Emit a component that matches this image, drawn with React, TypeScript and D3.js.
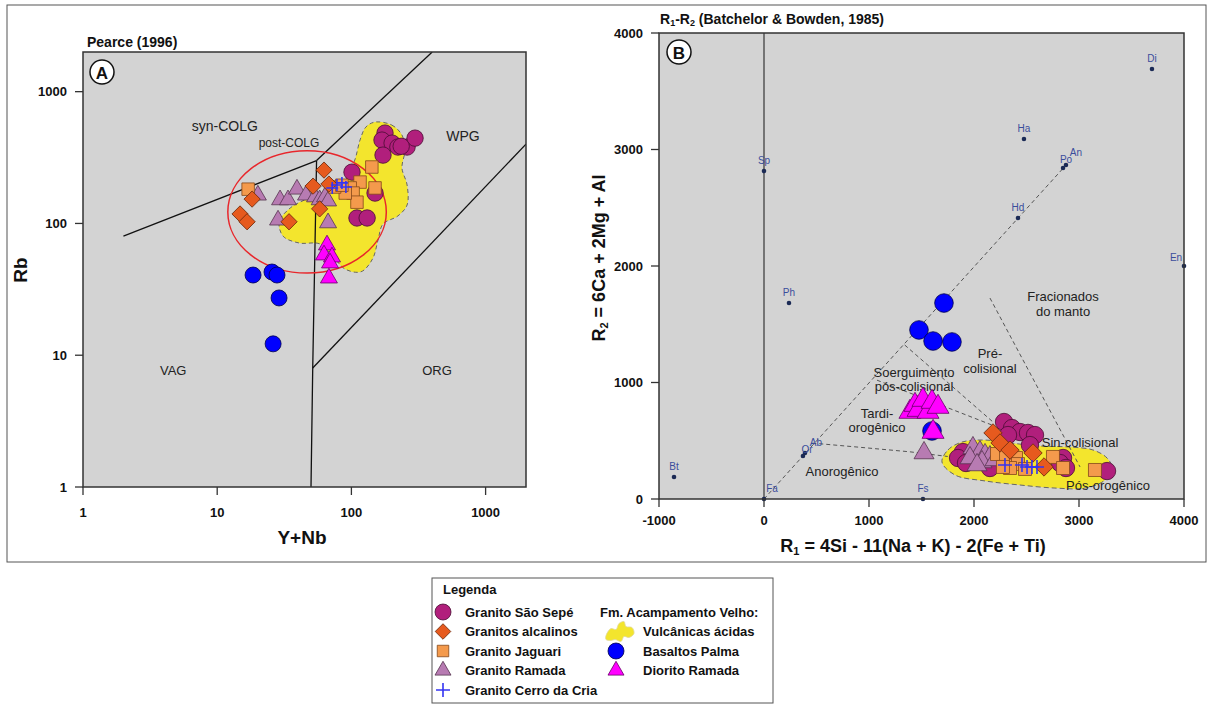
import React from 'react';
import * as d3 from 'd3';

type Pt = [number, number];

const FONT = '"Liberation Sans", Arial, Helvetica, sans-serif';

// ---------- Panel A: Pearce (1996)  Y+Nb (x) vs Rb (y) ----------
const saoSepeA: Pt[] = [[178, 485], [169, 429], [201, 407], [222, 380], [260, 380], [298, 444], [235, 385], [172, 330], [101, 245], [150, 170], [110, 110], [131, 110]];
const ramadaA: Pt[] = [[20.1, 164], [29.4, 151], [33.7, 151], [39.3, 182], [45.9, 164], [53.6, 159], [58, 151], [63.6, 159], [67, 148], [28.4, 106], [67, 101]];
const jaguariA: Pt[] = [[17, 182], [142, 268], [116, 206], [150, 186], [98, 186], [103, 170], [110, 145], [90, 170], [75, 189], [85, 195]];
const alcalinosA: Pt[] = [[18.2, 153], [14.8, 118], [16.7, 103], [62.5, 254], [51.8, 192], [68, 199], [58, 129], [34.3, 103]];
const cerroA: Pt[] = [[72, 186], [78, 196], [85, 203], [91, 189]];
const basaltosA: Pt[] = [[18.5, 40.6], [25.6, 42.8], [27.9, 40.6], [28.9, 27.2], [26.1, 12.2]];
const dioritoA: Pt[] = [[65.8, 68.6], [62.5, 57.6], [71.7, 55.6], [69.3, 50.1], [68, 38.5]];

// field of the Acampamento Velho acid volcanics (outline)
const vulcanicasA: Pt[] = [[150, 588], [200, 558], [238, 469], [251, 361], [238, 264], [260, 196], [260, 138], [222, 114], [172, 99], [158, 75], [144, 54], [118, 43], [90, 45], [73, 56], [58, 70], [41, 71], [31, 80], [29, 103], [35, 131], [45, 151], [64, 173], [90, 213], [106, 303], [116, 430], [128, 538]];

// discrimination boundaries
const pearceLines: Pt[][] = [
  [[2, 80], [55, 300]],
  [[55, 300], [51.5, 8], [50, 1]],
  [[51.5, 8], [2000, 400]],
  [[55, 300], [400, 2000]],
];
const pearceFields = [
  { label: 'syn-COLG', x: 11.4, y: 548, size: 14 },
  { label: 'post-COLG', x: 34.3, y: 407, size: 12 },
  { label: 'WPG', x: 679, y: 460, size: 14 },
  { label: 'VAG', x: 4.7, y: 7.7, size: 13 },
  { label: 'ORG', x: 434, y: 7.7, size: 13 },
];
// red ellipse, extents in data units
const ellipseX: Pt = [12, 182];
const ellipseY: Pt = [42, 356];
const logTicks = [1, 10, 100, 1000];

// ---------- Panel B: R1-R2 (Batchelor & Bowden, 1985) ----------
const saoSepeB: Pt[] = [[2286, 661], [2362, 609], [2438, 575], [2514, 567], [2581, 549], [2324, 549], [2533, 463], [1895, 403], [1848, 352], [1924, 309], [2152, 266], [2848, 352], [2819, 309], [2876, 266], [3267, 240]];
const ramadaB: Pt[] = [[1524, 395], [1990, 438], [2057, 403], [2105, 378], [2152, 360], [1962, 352], [2076, 318], [2029, 292], [2200, 335]];
const jaguariB: Pt[] = [[2219, 386], [2305, 361], [2400, 352], [2419, 300], [2343, 266], [2486, 258], [2276, 275], [2752, 361], [2848, 266], [3152, 249]];
const alcalinosB: Pt[] = [[2181, 567], [2248, 481], [2343, 420], [2562, 395], [2667, 275]];
const cerroB: Pt[] = [[2295, 292], [2457, 292], [2505, 275], [2552, 275], [2600, 275]];
const basaltosB: Pt[] = [[1714, 1682], [1476, 1451], [1610, 1356], [1790, 1348], [1600, 584]];
const dioritoB: Pt[] = [[1390, 747], [1438, 807], [1467, 764], [1514, 850], [1562, 747], [1600, 833], [1657, 790], [1610, 575]];

const vulcanicasB: Pt[] = [[1695, 318], [1752, 421], [1886, 489], [2105, 506], [2343, 481], [2629, 455], [2914, 446], [3133, 421], [3267, 352], [3314, 266], [3248, 163], [3057, 94], [2771, 94], [2438, 120], [2105, 155], [1819, 206]];

const mineralNames = ['Di', 'Ha', 'Po', 'An', 'Hd', 'En', 'Sp', 'Ph', 'Bt', 'Ab', 'Or', 'Fa', 'Fs'];
const mineralR1 = [3695, 2476, 2848, 2876, 2419, 4000, 0, 238, -857, 390, 371, 0, 1514];
const mineralR2 = [3691, 3090, 2841, 2867, 2412, 2000, 2815, 1682, 189, 395, 369, 0, 0];
const mineralLabelOffset: Record<string, Pt> = { Po: [3, -5], An: [10, -9], Ab: [11, -7], Or: [4, -3], Fa: [8, -7], En: [-8, -5] };

const r1r2Lines: Pt[][] = [
  [[0, 0], [2850, 2840]],
  [[460, 480], [900, 445], [1390, 405], [1750, 365]],
  [[1076, 1020], [2171, 635]],
  [[1340, 1322], [2181, 661]],
  [[2152, 1725], [3010, 275]],
];
const r1r2Fields = [
  { lines: ['Fracionados', 'do manto'], x: 2848, y: 1734 },
  { lines: ['Pré-', 'colisional'], x: 2152, y: 1245 },
  { lines: ['Soerguimento', 'pós-colisional'], x: 1429, y: 1090 },
  { lines: ['Tardi-', 'orogênico'], x: 1076, y: 738 },
  { lines: ['Anorogênico'], x: 743, y: 240 },
  { lines: ['Sin-colisional'], x: 3010, y: 481 },
  { lines: ['Pós-orogênico'], x: 3276, y: 112 },
];
const r1Ticks = [-1000, 0, 1000, 2000, 3000, 4000];
const r2Ticks = [0, 1000, 2000, 3000, 4000];

// ---------- legend ----------
const legendLeft = ['Granito São Sepé', 'Granitos alcalinos', 'Granito Jaguari', 'Granito Ramada', 'Granito Cerro da Cria'];
const legendRight = ['Vulcânicas ácidas', 'Basaltos Palma', 'Diorito Ramada'];

// ---------- layout / scales ----------
const A = { left: 83, top: 52, right: 526, bottom: 487 };
const B = { left: 659, top: 33, right: 1184, bottom: 499 };

const xA = d3.scaleLog().domain([1, 2000]).range([A.left, A.right]);
const yA = d3.scaleLog().domain([1, 2000]).range([A.bottom, A.top]);
const xB = d3.scaleLinear().domain([-1000, 4000]).range([B.left, B.right]);
const yB = d3.scaleLinear().domain([0, 4000]).range([B.bottom, B.top]);

type Kind = 'circle' | 'diamond' | 'square' | 'triangle' | 'cross';
const STY: Record<string, { kind: Kind; fill: string; stroke: string }> = {
  saoSepe: { kind: 'circle', fill: '#b11f7c', stroke: '#4a0c33' },
  alcalinos: { kind: 'diamond', fill: '#e65a1e', stroke: '#6e2a0c' },
  jaguari: { kind: 'square', fill: '#f49a4c', stroke: '#84471a' },
  ramada: { kind: 'triangle', fill: '#b77bb2', stroke: '#55344f' },
  cerro: { kind: 'cross', fill: '#3434f2', stroke: '#3434f2' },
  basaltos: { kind: 'circle', fill: '#0000ff', stroke: '#00004a' },
  diorito: { kind: 'triangle', fill: '#ff00ff', stroke: '#6a006a' },
};

const Marker: React.FC<{ kind: Kind; x: number; y: number; size: number; fill: string; stroke: string }> = ({ kind, x, y, size, fill, stroke }) => {
  if (kind === 'circle') return <circle cx={x} cy={y} r={size} fill={fill} stroke={stroke} strokeWidth={0.8} />;
  if (kind === 'cross') return <path d={`M${x - size},${y}H${x + size}M${x},${y - size}V${y + size}`} stroke={fill} strokeWidth={1.6} fill="none" />;
  const tri = kind === 'triangle';
  const area = tri ? (Math.sqrt(3) / 4) * size * size : size * size;
  const d = d3.symbol().type(tri ? d3.symbolTriangle : d3.symbolSquare).size(area)() || '';
  return <path d={d} transform={`translate(${x},${y}) rotate(${kind === 'diamond' ? 45 : 0})`} fill={fill} stroke={stroke} strokeWidth={0.8} />;
};

const blob = d3.line<Pt>().curve(d3.curveCatmullRomClosed.alpha(0.5));

export default function App() {
  const sizesA: Record<string, number> = { saoSepe: 8.2, alcalinos: 11.5, jaguari: 12.5, ramada: 17, cerro: 6, basaltos: 8, diorito: 17 };
  const sizesB: Record<string, number> = { saoSepe: 8.7, alcalinos: 13, jaguari: 13, ramada: 20, cerro: 7, basaltos: 9.3, diorito: 22 };
  const seriesA: [string, Pt[]][] = [['saoSepe', saoSepeA], ['ramada', ramadaA], ['jaguari', jaguariA], ['alcalinos', alcalinosA], ['cerro', cerroA], ['basaltos', basaltosA], ['diorito', dioritoA]];
  const seriesB: [string, Pt[]][] = [['saoSepe', saoSepeB], ['ramada', ramadaB], ['jaguari', jaguariB], ['alcalinos', alcalinosB], ['cerro', cerroB], ['basaltos', basaltosB], ['diorito', dioritoB]];

  const lineA = d3.line<Pt>().x(d => xA(d[0])).y(d => yA(d[1]));
  const lineB = d3.line<Pt>().x(d => xB(d[0])).y(d => yB(d[1]));

  const ex0 = xA(ellipseX[0]), ex1 = xA(ellipseX[1]);
  const ey0 = yA(ellipseY[1]), ey1 = yA(ellipseY[0]);

  const tickFont = { fontFamily: FONT, fontWeight: 700, fontSize: 13, fill: '#111' } as const;

  const legendRowY = (i: number) => 612 + i * 19.5;

  return (
    <svg width={1209} height={709} style={{ position: 'absolute', left: 0, top: 0, background: '#fff' }}>
      {/* outer frame */}
      <rect x={7} y={5} width={1199} height={557} fill="none" stroke="#555" strokeWidth={1} />

      {/* ================= Panel A ================= */}
      <text x={87} y={47} style={{ ...tickFont, fontSize: 14 }}>Pearce (1996)</text>
      <rect x={A.left} y={A.top} width={A.right - A.left} height={A.bottom - A.top} fill="#d3d3d3" />
      <clipPath id="clipA"><rect x={A.left} y={A.top} width={A.right - A.left} height={A.bottom - A.top} /></clipPath>
      <g clipPath="url(#clipA)">
        <path d={blob(vulcanicasA.map(d => [xA(d[0]), yA(d[1])] as Pt)) || ''} fill="#f3e52d" stroke="#666" strokeWidth={1} strokeDasharray="4,3" />
        {pearceLines.map((l, i) => <path key={i} d={lineA(l) || ''} fill="none" stroke="#111" strokeWidth={1.3} />)}
        <ellipse cx={(ex0 + ex1) / 2} cy={(ey0 + ey1) / 2} rx={(ex1 - ex0) / 2} ry={(ey1 - ey0) / 2} fill="none" stroke="#e8262b" strokeWidth={1.5} />
      </g>
      {pearceFields.map(f => (
        <text key={f.label} x={xA(f.x)} y={yA(f.y) + f.size * 0.35} textAnchor="middle" style={{ fontFamily: FONT, fontSize: f.size, fill: '#222' }}>{f.label}</text>
      ))}
      {seriesA.map(([k, pts]) => (
        <g key={k}>
          {pts.map((p, i) => <Marker key={i} kind={STY[k].kind} x={xA(p[0])} y={yA(p[1])} size={sizesA[k]} fill={STY[k].fill} stroke={STY[k].stroke} />)}
        </g>
      ))}
      <rect x={A.left} y={A.top} width={A.right - A.left} height={A.bottom - A.top} fill="none" stroke="#333" strokeWidth={1.5} />
      {logTicks.map(t => (
        <g key={'ya' + t}>
          <line x1={A.left - 8} x2={A.left} y1={yA(t)} y2={yA(t)} stroke="#333" strokeWidth={1.3} />
          <text x={A.left - 16} y={yA(t) + 4.5} textAnchor="end" style={tickFont}>{t}</text>
        </g>
      ))}
      {logTicks.map(t => (
        <g key={'xa' + t}>
          <line x1={xA(t)} x2={xA(t)} y1={A.bottom} y2={A.bottom + 8} stroke="#333" strokeWidth={1.3} />
          <text x={xA(t)} y={A.bottom + 30} textAnchor="middle" style={tickFont}>{t}</text>
        </g>
      ))}
      <text x={302} y={544} textAnchor="middle" style={{ ...tickFont, fontSize: 19 }}>Y+Nb</text>
      <text transform="translate(27,270) rotate(-90)" textAnchor="middle" style={{ ...tickFont, fontSize: 19 }}>Rb</text>
      <circle cx={102} cy={72} r={12} fill="#fff" stroke="#111" strokeWidth={1.5} />
      <text x={102} y={78.5} textAnchor="middle" style={{ ...tickFont, fontSize: 17 }}>A</text>

      {/* ================= Panel B ================= */}
      <text x={660} y={24} style={{ ...tickFont, fontSize: 14 }}>
        R<tspan fontSize="9" dy={2}>1</tspan><tspan dy={-2}>-R</tspan><tspan fontSize="9" dy={2}>2</tspan><tspan dy={-2}> (Batchelor &amp; Bowden, 1985)</tspan>
      </text>
      <rect x={B.left} y={B.top} width={B.right - B.left} height={B.bottom - B.top} fill="#d3d3d3" />
      <clipPath id="clipB"><rect x={B.left} y={B.top} width={B.right - B.left} height={B.bottom - B.top} /></clipPath>
      <g clipPath="url(#clipB)">
        <line x1={xB(0)} x2={xB(0)} y1={B.top} y2={B.bottom} stroke="#555" strokeWidth={1.5} />
        <path d={blob(vulcanicasB.map(d => [xB(d[0]), yB(d[1])] as Pt)) || ''} fill="#f3e52d" stroke="#666" strokeWidth={1} strokeDasharray="5,3" />
        {r1r2Lines.map((l, i) => <path key={i} d={lineB(l) || ''} fill="none" stroke="#555" strokeWidth={1} strokeDasharray="4,3" />)}
      </g>
      {mineralNames.map((n, i) => {
        const off = mineralLabelOffset[n] || [0, -7];
        return (
          <g key={n}>
            <circle cx={xB(mineralR1[i])} cy={yB(mineralR2[i])} r={2.3} fill="#1b2a55" />
            <text x={xB(mineralR1[i]) + off[0]} y={yB(mineralR2[i]) + off[1]} textAnchor="middle" style={{ fontFamily: FONT, fontSize: 10, fill: '#3a4d9c' }}>{n}</text>
          </g>
        );
      })}
      {r1r2Fields.map(f => (
        <text key={f.lines[0]} x={xB(f.x)} y={yB(f.y) + 4.5} textAnchor="middle" style={{ fontFamily: FONT, fontSize: 13, fill: '#222' }}>
          {f.lines.map((s, i) => <tspan key={i} x={xB(f.x)} dy={i === 0 ? 0 : 14.5}>{s}</tspan>)}
        </text>
      ))}
      {seriesB.map(([k, pts]) => (
        <g key={k}>
          {pts.map((p, i) => <Marker key={i} kind={STY[k].kind} x={xB(p[0])} y={yB(p[1])} size={sizesB[k]} fill={STY[k].fill} stroke={STY[k].stroke} />)}
        </g>
      ))}
      <rect x={B.left} y={B.top} width={B.right - B.left} height={B.bottom - B.top} fill="none" stroke="#333" strokeWidth={1.5} />
      {r2Ticks.map(t => (
        <g key={'yb' + t}>
          <line x1={B.left - 8} x2={B.left} y1={yB(t)} y2={yB(t)} stroke="#333" strokeWidth={1.3} />
          <text x={B.left - 16} y={yB(t) + 4.5} textAnchor="end" style={tickFont}>{t}</text>
        </g>
      ))}
      {r1Ticks.map(t => (
        <g key={'xb' + t}>
          <line x1={xB(t)} x2={xB(t)} y1={B.bottom} y2={B.bottom + 8} stroke="#333" strokeWidth={1.3} />
          <text x={xB(t)} y={B.bottom + 26} textAnchor="middle" style={tickFont}>{t}</text>
        </g>
      ))}
      <text x={913} y={552} textAnchor="middle" style={{ ...tickFont, fontSize: 18 }}>
        R<tspan fontSize="11" dy={3}>1</tspan><tspan dy={-3}> = 4Si - 11(Na + K) - 2(Fe + Ti)</tspan>
      </text>
      <text transform="translate(605,258) rotate(-90)" textAnchor="middle" style={{ ...tickFont, fontSize: 18 }}>
        R<tspan fontSize="11" dy={3}>2</tspan><tspan dy={-3}> = 6Ca + 2Mg + Al</tspan>
      </text>
      <circle cx={679} cy={52} r={12} fill="#fff" stroke="#111" strokeWidth={1.5} />
      <text x={679} y={58.5} textAnchor="middle" style={{ ...tickFont, fontSize: 17 }}>B</text>

      {/* ================= Legend ================= */}
      <rect x={432} y={578} width={341} height={125} fill="#fff" stroke="#555" strokeWidth={1} />
      <text x={443} y={594} style={tickFont}>Legenda</text>
      {legendLeft.map((s, i) => {
        const k = ['saoSepe', 'alcalinos', 'jaguari', 'ramada', 'cerro'][i];
        const sz = [8, 11, 11.5, 16, 7][i];
        return (
          <g key={s}>
            <Marker kind={STY[k].kind} x={443} y={legendRowY(i)} size={sz} fill={STY[k].fill} stroke={STY[k].stroke} />
            <text x={465} y={legendRowY(i) + 4.5} style={tickFont}>{s}</text>
          </g>
        );
      })}
      <text x={600} y={legendRowY(0) + 4.5} style={tickFont}>Fm. Acampamento Velho:</text>
      <path
        d={blob([[-14, 4], [-9, -3], [-4, -2], [-1, -8], [4, -10], [6, -5], [12, -4], [14, 2], [9, 6], [4, 5], [1, 10], [-5, 8], [-9, 9], [-14, 8]].map(d => [620 + d[0], legendRowY(1) + d[1]] as Pt)) || ''}
        fill="#f3e52d" stroke="#e0d8a0" strokeWidth={0.8}
      />
      {legendRight.map((s, i) => (
        <text key={s} x={643} y={legendRowY(i + 1) + 4.5} style={tickFont}>{s}</text>
      ))}
      <Marker kind="circle" x={616} y={legendRowY(2)} size={8} fill={STY.basaltos.fill} stroke={STY.basaltos.stroke} />
      <Marker kind="triangle" x={616} y={legendRowY(3)} size={16} fill={STY.diorito.fill} stroke={STY.diorito.stroke} />
    </svg>
  );
}
